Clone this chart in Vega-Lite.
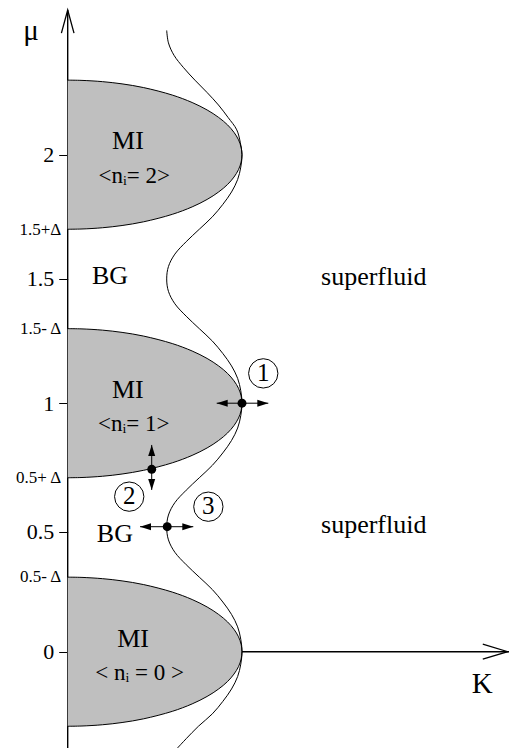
{
  "$schema": "https://vega.github.io/schema/vega-lite/v6.json",
  "width": 441.3,
  "height": 748,
  "autosize": "none",
  "padding": {"left": 67.7, "top": 0, "right": 0, "bottom": 0},
  "background": "white",
  "config": {"view": {"stroke": null}, "font": "Liberation Serif, Times New Roman, DejaVu Serif, serif"},
  "resolve": {"axis": {"y": "independent"}},
  "datasets": {
    "yaxis": [{"K": 0, "mu": -0.3875, "mu2": 2.582}],
    "xaxis": [{"K": 1, "K2": 2.532, "mu": 0}],
    "lobes": [
      {"g": "n0", "mu": -0.3, "K": 0}, {"g": "n0", "mu": -0.299, "K": 0.082}, {"g": "n0", "mu": -0.294, "K": 0.199}, {"g": "n0", "mu": -0.285, "K": 0.312}, {"g": "n0", "mu": -0.27, "K": 0.436}, {"g": "n0", "mu": -0.24, "K": 0.6}, {"g": "n0", "mu": -0.21, "K": 0.714}, {"g": "n0", "mu": -0.18, "K": 0.8}, {"g": "n0", "mu": -0.15, "K": 0.866}, {"g": "n0", "mu": -0.12, "K": 0.917}, {"g": "n0", "mu": -0.09, "K": 0.954}, {"g": "n0", "mu": -0.06, "K": 0.98}, {"g": "n0", "mu": -0.03, "K": 0.995}, {"g": "n0", "mu": 0, "K": 1}, {"g": "n0", "mu": 0.03, "K": 0.995}, {"g": "n0", "mu": 0.06, "K": 0.98}, {"g": "n0", "mu": 0.09, "K": 0.954}, {"g": "n0", "mu": 0.12, "K": 0.917}, {"g": "n0", "mu": 0.15, "K": 0.866}, {"g": "n0", "mu": 0.18, "K": 0.8}, {"g": "n0", "mu": 0.21, "K": 0.714}, {"g": "n0", "mu": 0.24, "K": 0.6}, {"g": "n0", "mu": 0.27, "K": 0.436}, {"g": "n0", "mu": 0.285, "K": 0.312}, {"g": "n0", "mu": 0.294, "K": 0.199}, {"g": "n0", "mu": 0.299, "K": 0.082}, {"g": "n0", "mu": 0.3, "K": 0},
      {"g": "n1", "mu": 0.7, "K": 0}, {"g": "n1", "mu": 0.701, "K": 0.082}, {"g": "n1", "mu": 0.706, "K": 0.199}, {"g": "n1", "mu": 0.715, "K": 0.312}, {"g": "n1", "mu": 0.73, "K": 0.436}, {"g": "n1", "mu": 0.76, "K": 0.6}, {"g": "n1", "mu": 0.79, "K": 0.714}, {"g": "n1", "mu": 0.82, "K": 0.8}, {"g": "n1", "mu": 0.85, "K": 0.866}, {"g": "n1", "mu": 0.88, "K": 0.917}, {"g": "n1", "mu": 0.91, "K": 0.954}, {"g": "n1", "mu": 0.94, "K": 0.98}, {"g": "n1", "mu": 0.97, "K": 0.995}, {"g": "n1", "mu": 1, "K": 1}, {"g": "n1", "mu": 1.03, "K": 0.995}, {"g": "n1", "mu": 1.06, "K": 0.98}, {"g": "n1", "mu": 1.09, "K": 0.954}, {"g": "n1", "mu": 1.12, "K": 0.917}, {"g": "n1", "mu": 1.15, "K": 0.866}, {"g": "n1", "mu": 1.18, "K": 0.8}, {"g": "n1", "mu": 1.21, "K": 0.714}, {"g": "n1", "mu": 1.24, "K": 0.6}, {"g": "n1", "mu": 1.27, "K": 0.436}, {"g": "n1", "mu": 1.285, "K": 0.312}, {"g": "n1", "mu": 1.294, "K": 0.199}, {"g": "n1", "mu": 1.299, "K": 0.082}, {"g": "n1", "mu": 1.3, "K": 0},
      {"g": "n2", "mu": 1.7, "K": 0}, {"g": "n2", "mu": 1.701, "K": 0.082}, {"g": "n2", "mu": 1.706, "K": 0.199}, {"g": "n2", "mu": 1.715, "K": 0.312}, {"g": "n2", "mu": 1.73, "K": 0.436}, {"g": "n2", "mu": 1.76, "K": 0.6}, {"g": "n2", "mu": 1.79, "K": 0.714}, {"g": "n2", "mu": 1.82, "K": 0.8}, {"g": "n2", "mu": 1.85, "K": 0.866}, {"g": "n2", "mu": 1.88, "K": 0.917}, {"g": "n2", "mu": 1.91, "K": 0.954}, {"g": "n2", "mu": 1.94, "K": 0.98}, {"g": "n2", "mu": 1.97, "K": 0.995}, {"g": "n2", "mu": 2, "K": 1}, {"g": "n2", "mu": 2.03, "K": 0.995}, {"g": "n2", "mu": 2.06, "K": 0.98}, {"g": "n2", "mu": 2.09, "K": 0.954}, {"g": "n2", "mu": 2.12, "K": 0.917}, {"g": "n2", "mu": 2.15, "K": 0.866}, {"g": "n2", "mu": 2.18, "K": 0.8}, {"g": "n2", "mu": 2.21, "K": 0.714}, {"g": "n2", "mu": 2.24, "K": 0.6}, {"g": "n2", "mu": 2.27, "K": 0.436}, {"g": "n2", "mu": 2.285, "K": 0.312}, {"g": "n2", "mu": 2.294, "K": 0.199}, {"g": "n2", "mu": 2.299, "K": 0.082}, {"g": "n2", "mu": 2.3, "K": 0}
    ],
    "wavy": [
      {"mu": -0.3875, "K": 0.63}, {"mu": -0.35, "K": 0.68}, {"mu": -0.3, "K": 0.75}, {"mu": -0.25, "K": 0.83}, {"mu": -0.2, "K": 0.89}, {"mu": -0.15, "K": 0.94}, {"mu": -0.1, "K": 0.975}, {"mu": -0.05, "K": 0.993}, {"mu": 0, "K": 1},
      {"mu": 0.05, "K": 0.993}, {"mu": 0.1, "K": 0.975}, {"mu": 0.15, "K": 0.94}, {"mu": 0.2, "K": 0.89}, {"mu": 0.25, "K": 0.83}, {"mu": 0.3, "K": 0.755}, {"mu": 0.35, "K": 0.68}, {"mu": 0.4, "K": 0.615}, {"mu": 0.45, "K": 0.578}, {"mu": 0.5, "K": 0.568},
      {"mu": 0.55, "K": 0.578}, {"mu": 0.6, "K": 0.615}, {"mu": 0.65, "K": 0.68}, {"mu": 0.7, "K": 0.755}, {"mu": 0.75, "K": 0.83}, {"mu": 0.8, "K": 0.89}, {"mu": 0.85, "K": 0.94}, {"mu": 0.9, "K": 0.975}, {"mu": 0.95, "K": 0.993}, {"mu": 1, "K": 1},
      {"mu": 1.05, "K": 0.993}, {"mu": 1.1, "K": 0.975}, {"mu": 1.15, "K": 0.94}, {"mu": 1.2, "K": 0.89}, {"mu": 1.25, "K": 0.83}, {"mu": 1.3, "K": 0.755}, {"mu": 1.35, "K": 0.68}, {"mu": 1.4, "K": 0.615}, {"mu": 1.45, "K": 0.578}, {"mu": 1.5, "K": 0.568},
      {"mu": 1.55, "K": 0.578}, {"mu": 1.6, "K": 0.615}, {"mu": 1.65, "K": 0.68}, {"mu": 1.7, "K": 0.755}, {"mu": 1.75, "K": 0.83}, {"mu": 1.8, "K": 0.89}, {"mu": 1.85, "K": 0.94}, {"mu": 1.9, "K": 0.975}, {"mu": 1.95, "K": 0.993}, {"mu": 2, "K": 1},
      {"mu": 2.05, "K": 0.99}, {"mu": 2.1, "K": 0.97}, {"mu": 2.15, "K": 0.92}, {"mu": 2.2, "K": 0.865}, {"mu": 2.25, "K": 0.8}, {"mu": 2.3, "K": 0.73}, {"mu": 2.35, "K": 0.665}, {"mu": 2.4, "K": 0.61}, {"mu": 2.45, "K": 0.578}, {"mu": 2.5, "K": 0.568}
    ],
    "shafts": [
      {"K": 0.855, "K2": 1.151, "mu": 1.0, "mu2": 1.0},
      {"K": 0.415, "K2": 0.7206, "mu": 0.503, "mu2": 0.503},
      {"K": 0.482, "K2": 0.482, "mu": 0.651, "mu2": 0.832}
    ],
    "headRight": [{"K": 1.151, "mu": 1.0}, {"K": 0.7206, "mu": 0.503}],
    "headLeft": [{"K": 0.855, "mu": 1.0}, {"K": 0.415, "mu": 0.503}],
    "headUp": [{"K": 0.482, "mu": 0.832}],
    "headDown": [{"K": 0.482, "mu": 0.651}],
    "dots": [{"K": 1.0, "mu": 1.0}, {"K": 0.482, "mu": 0.734}, {"K": 0.571, "mu": 0.503}],
    "circles": [{"K": 1.122, "mu": 1.12}, {"K": 0.353, "mu": 0.624}, {"K": 0.807, "mu": 0.5835}],
    "chevUp": [{"K": 0, "mu": 2.582}],
    "chevRight": [{"K": 2.525, "mu": 0}],
    "bigText": [
      {"text": "MI", "K": 0.346, "mu": 2.022}, {"text": "MI", "K": 0.345, "mu": 1.02}, {"text": "MI", "K": 0.375, "mu": 0.02},
      {"text": "BG", "K": 0.243, "mu": 1.4785}, {"text": "BG", "K": 0.271, "mu": 0.4427},
      {"text": "superfluid", "K": 1.756, "mu": 1.4756}, {"text": "superfluid", "K": 1.756, "mu": 0.478}
    ],
    "midText": [
      {"text": "<nᵢ= 2>", "K": 0.382, "mu": 1.885}, {"text": "<nᵢ= 1>", "K": 0.379, "mu": 0.89}, {"text": "< nᵢ = 0 >", "K": 0.413, "mu": -0.115}
    ],
    "digits": [
      {"text": "1", "K": 1.122, "mu": 1.089}, {"text": "2", "K": 0.353, "mu": 0.593}, {"text": "3", "K": 0.807, "mu": 0.5525}
    ],
    "axisTitles": [{"text": "μ", "K": -0.21, "mu": 2.4616}, {"text": "K", "K": 2.379, "mu": -0.165}]
  },
  "layer": [
    {
      "data": {"name": "yaxis"},
      "mark": {"type": "rule", "color": "black", "strokeWidth": 1.4},
      "encoding": {
        "x": {"field": "K", "type": "quantitative", "scale": {"domain": [0, 2.532], "nice": false, "zero": false}, "axis": null},
        "y": {"field": "mu", "type": "quantitative", "scale": {"domain": [-0.3875, 2.6225], "nice": false, "zero": false},
          "axis": {"orient": "left", "values": [0, 0.483, 1, 1.5, 2], "labelExpr": "datum.value == 0.483 ? '0.5' : format(datum.value, '~g')", "domain": false, "grid": false, "ticks": true, "tickSize": 9, "tickColor": "black", "tickWidth": 1, "labelFont": "Liberation Serif, Times New Roman, DejaVu Serif, serif", "labelFontSize": 22, "labelColor": "black", "labelPadding": 5, "labelOverlap": false, "labelBound": false, "labelFlush": false, "title": null}},
        "y2": {"field": "mu2"}
      }
    },
    {
      "data": {"name": "xaxis"},
      "mark": {"type": "rule", "color": "black", "strokeWidth": 1.4},
      "encoding": {
        "x": {"field": "K", "type": "quantitative", "scale": {"domain": [0, 2.532], "nice": false, "zero": false}, "axis": null},
        "x2": {"field": "K2"},
        "y": {"field": "mu", "type": "quantitative", "scale": {"domain": [-0.3875, 2.6225], "nice": false, "zero": false},
          "axis": {"orient": "left", "values": [0.302, 0.702, 1.301, 1.7], "labelExpr": "datum.value < 0.5 ? '0.5- Δ' : datum.value < 1 ? '0.5+ Δ' : datum.value < 1.5 ? '1.5- Δ' : '1.5+Δ'", "domain": false, "grid": false, "ticks": false, "labelFont": "Liberation Serif, Times New Roman, DejaVu Serif, serif", "labelFontSize": 17, "labelColor": "black", "labelPadding": 7, "labelOverlap": false, "labelBound": false, "labelFlush": false, "title": null}}
      }
    },
    {
      "data": {"name": "lobes"},
      "mark": {"type": "area", "orient": "horizontal", "color": "#bfbfbf", "interpolate": "catmull-rom", "opacity": 1},
      "encoding": {
        "x": {"field": "K", "type": "quantitative", "stack": null, "scale": {"domain": [0, 2.532], "nice": false, "zero": false}, "axis": null},
        "y": {"field": "mu", "type": "quantitative", "scale": {"domain": [-0.3875, 2.6225], "nice": false, "zero": false}, "axis": null},
        "detail": {"field": "g"}
      }
    },
    {
      "data": {"name": "lobes"},
      "mark": {"type": "line", "color": "black", "strokeWidth": 1, "interpolate": "catmull-rom"},
      "encoding": {
        "x": {"field": "K", "type": "quantitative", "scale": {"domain": [0, 2.532], "nice": false, "zero": false}, "axis": null},
        "y": {"field": "mu", "type": "quantitative", "scale": {"domain": [-0.3875, 2.6225], "nice": false, "zero": false}, "axis": null},
        "detail": {"field": "g"},
        "order": {"field": "mu", "type": "quantitative"}
      }
    },
    {
      "data": {"name": "wavy"},
      "mark": {"type": "line", "color": "black", "strokeWidth": 1, "interpolate": "catmull-rom"},
      "encoding": {
        "x": {"field": "K", "type": "quantitative", "scale": {"domain": [0, 2.532], "nice": false, "zero": false}, "axis": null},
        "y": {"field": "mu", "type": "quantitative", "scale": {"domain": [-0.3875, 2.6225], "nice": false, "zero": false}, "axis": null},
        "order": {"field": "mu", "type": "quantitative"}
      }
    },
    {
      "data": {"name": "shafts"},
      "mark": {"type": "rule", "color": "black", "strokeWidth": 1},
      "encoding": {
        "x": {"field": "K", "type": "quantitative", "scale": {"domain": [0, 2.532], "nice": false, "zero": false}, "axis": null},
        "x2": {"field": "K2"},
        "y": {"field": "mu", "type": "quantitative", "scale": {"domain": [-0.3875, 2.6225], "nice": false, "zero": false}, "axis": null},
        "y2": {"field": "mu2"}
      }
    },
    {
      "data": {"name": "headRight"},
      "mark": {"type": "point", "shape": "M0,0L-2.2,-0.7L-2.2,0.7Z", "size": 100, "filled": true, "color": "black", "opacity": 1},
      "encoding": {
        "x": {"field": "K", "type": "quantitative", "scale": {"domain": [0, 2.532], "nice": false, "zero": false}, "axis": null},
        "y": {"field": "mu", "type": "quantitative", "scale": {"domain": [-0.3875, 2.6225], "nice": false, "zero": false}, "axis": null}
      }
    },
    {
      "data": {"name": "headLeft"},
      "mark": {"type": "point", "shape": "M0,0L2.2,-0.7L2.2,0.7Z", "size": 100, "filled": true, "color": "black", "opacity": 1},
      "encoding": {
        "x": {"field": "K", "type": "quantitative", "scale": {"domain": [0, 2.532], "nice": false, "zero": false}, "axis": null},
        "y": {"field": "mu", "type": "quantitative", "scale": {"domain": [-0.3875, 2.6225], "nice": false, "zero": false}, "axis": null}
      }
    },
    {
      "data": {"name": "headUp"},
      "mark": {"type": "point", "shape": "M0,0L-0.7,2.2L0.7,2.2Z", "size": 100, "filled": true, "color": "black", "opacity": 1},
      "encoding": {
        "x": {"field": "K", "type": "quantitative", "scale": {"domain": [0, 2.532], "nice": false, "zero": false}, "axis": null},
        "y": {"field": "mu", "type": "quantitative", "scale": {"domain": [-0.3875, 2.6225], "nice": false, "zero": false}, "axis": null}
      }
    },
    {
      "data": {"name": "headDown"},
      "mark": {"type": "point", "shape": "M0,0L-0.7,-2.2L0.7,-2.2Z", "size": 100, "filled": true, "color": "black", "opacity": 1},
      "encoding": {
        "x": {"field": "K", "type": "quantitative", "scale": {"domain": [0, 2.532], "nice": false, "zero": false}, "axis": null},
        "y": {"field": "mu", "type": "quantitative", "scale": {"domain": [-0.3875, 2.6225], "nice": false, "zero": false}, "axis": null}
      }
    },
    {
      "data": {"name": "dots"},
      "mark": {"type": "point", "shape": "circle", "size": 80, "filled": true, "color": "black", "opacity": 1},
      "encoding": {
        "x": {"field": "K", "type": "quantitative", "scale": {"domain": [0, 2.532], "nice": false, "zero": false}, "axis": null},
        "y": {"field": "mu", "type": "quantitative", "scale": {"domain": [-0.3875, 2.6225], "nice": false, "zero": false}, "axis": null}
      }
    },
    {
      "data": {"name": "circles"},
      "mark": {"type": "point", "shape": "circle", "size": 860, "filled": false, "color": "black", "strokeWidth": 1, "opacity": 1},
      "encoding": {
        "x": {"field": "K", "type": "quantitative", "scale": {"domain": [0, 2.532], "nice": false, "zero": false}, "axis": null},
        "y": {"field": "mu", "type": "quantitative", "scale": {"domain": [-0.3875, 2.6225], "nice": false, "zero": false}, "axis": null}
      }
    },
    {
      "data": {"name": "chevUp"},
      "mark": {"type": "point", "shape": "M-0.274,1L0,0L0.274,1", "size": 2116, "filled": false, "color": "black", "strokeWidth": 1.3, "opacity": 1},
      "encoding": {
        "x": {"field": "K", "type": "quantitative", "scale": {"domain": [0, 2.532], "nice": false, "zero": false}, "axis": null},
        "y": {"field": "mu", "type": "quantitative", "scale": {"domain": [-0.3875, 2.6225], "nice": false, "zero": false}, "axis": null}
      }
    },
    {
      "data": {"name": "chevRight"},
      "mark": {"type": "point", "shape": "M-1,-0.3L0,0L-1,0.3", "size": 2500, "filled": false, "color": "black", "strokeWidth": 1.3, "opacity": 1},
      "encoding": {
        "x": {"field": "K", "type": "quantitative", "scale": {"domain": [0, 2.532], "nice": false, "zero": false}, "axis": null},
        "y": {"field": "mu", "type": "quantitative", "scale": {"domain": [-0.3875, 2.6225], "nice": false, "zero": false}, "axis": null}
      }
    },
    {
      "data": {"name": "bigText"},
      "mark": {"type": "text", "font": "Liberation Serif, Times New Roman, DejaVu Serif, serif", "fontSize": 26, "align": "center", "baseline": "alphabetic", "color": "black"},
      "encoding": {
        "x": {"field": "K", "type": "quantitative", "scale": {"domain": [0, 2.532], "nice": false, "zero": false}, "axis": null},
        "y": {"field": "mu", "type": "quantitative", "scale": {"domain": [-0.3875, 2.6225], "nice": false, "zero": false}, "axis": null},
        "text": {"field": "text"}
      }
    },
    {
      "data": {"name": "midText"},
      "mark": {"type": "text", "font": "Liberation Serif, Times New Roman, DejaVu Serif, serif", "fontSize": 23, "align": "center", "baseline": "alphabetic", "color": "black"},
      "encoding": {
        "x": {"field": "K", "type": "quantitative", "scale": {"domain": [0, 2.532], "nice": false, "zero": false}, "axis": null},
        "y": {"field": "mu", "type": "quantitative", "scale": {"domain": [-0.3875, 2.6225], "nice": false, "zero": false}, "axis": null},
        "text": {"field": "text"}
      }
    },
    {
      "data": {"name": "digits"},
      "mark": {"type": "text", "font": "Liberation Serif, Times New Roman, DejaVu Serif, serif", "fontSize": 25, "align": "center", "baseline": "alphabetic", "color": "black"},
      "encoding": {
        "x": {"field": "K", "type": "quantitative", "scale": {"domain": [0, 2.532], "nice": false, "zero": false}, "axis": null},
        "y": {"field": "mu", "type": "quantitative", "scale": {"domain": [-0.3875, 2.6225], "nice": false, "zero": false}, "axis": null},
        "text": {"field": "text"}
      }
    },
    {
      "data": {"name": "axisTitles"},
      "mark": {"type": "text", "font": "Liberation Serif, Times New Roman, DejaVu Serif, serif", "fontSize": 29, "align": "center", "baseline": "alphabetic", "color": "black"},
      "encoding": {
        "x": {"field": "K", "type": "quantitative", "scale": {"domain": [0, 2.532], "nice": false, "zero": false}, "axis": null},
        "y": {"field": "mu", "type": "quantitative", "scale": {"domain": [-0.3875, 2.6225], "nice": false, "zero": false}, "axis": null},
        "text": {"field": "text"}
      }
    }
  ]
}
